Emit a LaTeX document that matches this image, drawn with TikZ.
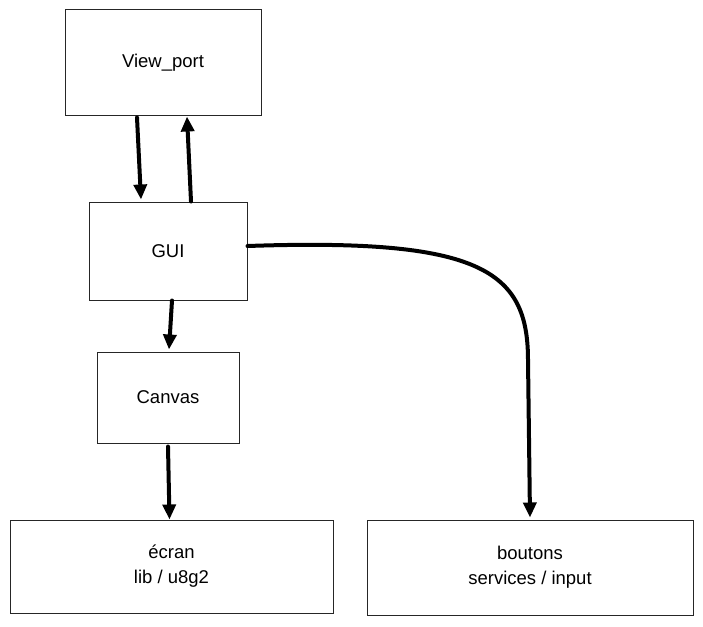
\documentclass[tikz,border=0pt]{standalone}
\usepackage{fontspec}
\setmainfont{Liberation Sans}
\usetikzlibrary{arrows.meta}
\begin{document}
\begin{tikzpicture}[x=1pt,y=-1pt,
  box/.style={draw=black!85, line width=1pt, fill=white, inner sep=0pt,
    align=center, font=\fontsize{18.5}{25}\selectfont},
  flow/.style={line width=4pt, line cap=round,
    -{Triangle[length=15pt,width=13pt]}}]
  \useasboundingbox (0,0) rectangle (703,626);
  % blocks
  \node[box, minimum width=196pt, minimum height=105pt] (vp) at (163,62.5) {View\_port};
  \node[box, minimum width=158pt, minimum height=98pt] (gui) at (168,251) {GUI};
  \node[box, minimum width=142pt, minimum height=91pt] (cv) at (168,397.5) {Canvas};
  \node[box, minimum width=323pt, minimum height=93pt] (scr) at (171.5,566.5) {écran\\lib / u8g2};
  \node[box, minimum width=326pt, minimum height=95pt] (btn) at (530,567.5) {boutons\\services / input};
  % connectors
  \draw[flow] ([xshift=-26pt,yshift=-2pt]vp.south) -- ([xshift=-27pt,yshift=2pt]gui.north);
  \draw[flow] ([xshift=23pt]gui.north) -- ([xshift=24pt,yshift=-1pt]vp.south);
  \draw[flow] ([xshift=4pt]gui.south) -- ([xshift=1pt,yshift=2pt]cv.north);
  \draw[flow] ([yshift=-3pt]cv.south) -- ([xshift=-2pt]scr.north);
  \draw[flow] ([yshift=5pt]gui.east) .. controls (480,238) and (528,270) .. (528,360)
    -- ([xshift=0pt,yshift=2pt]btn.north);
\end{tikzpicture}
\end{document}
